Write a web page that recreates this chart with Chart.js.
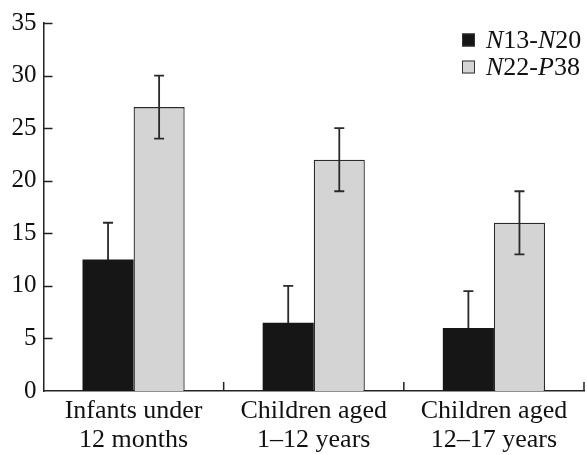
<!DOCTYPE html>
<html lang="en">

<head>
    <meta charset="UTF-8">
    <title>Bar chart</title>
    <style>
        body { margin: 0; background: #fff; }
        #wrap { width: 587px; height: 455px; }
    </style>
</head>

<body>
    <div id="wrap">
        <canvas id="myChart" width="587" height="455"></canvas>
    </div>

    <script src="https://cdn.jsdelivr.net/npm/chart.js"></script>

    <script>
        const categories = [
            ['Infants under', '12 months'],
            ['Children aged', '1\u201312 years'],
            ['Children aged', '12\u201317 years']
        ];
        const seriesA = [12.5, 6.5, 6];     // N13-N20
        const errorsA = [3.5, 3.5, 3.5];
        const seriesB = [27, 22, 16];       // N22-P38
        const errorsB = [3, 3, 3];
        const yTicks = [0, 5, 10, 15, 20, 25, 30, 35];

        // legend parts: [text, italic]
        const legendA = [['N', true], ['13-', false], ['N', true], ['20', false]];
        const legendB = [['N', true], ['22-', false], ['P', true], ['38', false]];

        const SERIF = '"Liberation Serif", "Times New Roman", serif';
        const INK = '#222';

        function drawErrors(chart, dsIndex, errs) {
            const ctx = chart.ctx;
            const y = chart.scales.y;
            const meta = chart.getDatasetMeta(dsIndex);
            const vals = chart.data.datasets[dsIndex].data;
            ctx.save();
            ctx.strokeStyle = '#2a2a2a';
            ctx.lineWidth = 1.8;
            meta.data.forEach((bar, i) => {
                const top = y.getPixelForValue(vals[i] + errs[i]);
                const bot = y.getPixelForValue(vals[i] - errs[i]);
                ctx.beginPath();
                ctx.moveTo(bar.x, top); ctx.lineTo(bar.x, bot);
                ctx.moveTo(bar.x - 5, top); ctx.lineTo(bar.x + 5, top);
                ctx.moveTo(bar.x - 5, bot); ctx.lineTo(bar.x + 5, bot);
                ctx.stroke();
            });
            ctx.restore();
        }

        const extras = {
            id: 'extras',
            beforeDatasetsDraw(chart) {
                drawErrors(chart, 0, errorsA);
            },
            afterDatasetsDraw(chart) {
                drawErrors(chart, 1, errorsB);
            },
            afterDraw(chart) {
                const ctx = chart.ctx;
                const x = chart.scales.x, y = chart.scales.y;
                const area = chart.chartArea;
                ctx.save();
                ctx.strokeStyle = INK;
                ctx.lineWidth = 1.5;
                ctx.beginPath();
                // inward ticks on y
                yTicks.slice(1).forEach(v => {
                    const py = Math.round(y.getPixelForValue(v)) + 0.5;
                    ctx.moveTo(area.left, py); ctx.lineTo(area.left + 9, py);
                });
                // inward ticks between categories and at right end
                for (let i = 0; i < categories.length; i++) {
                    const px = i < categories.length - 1
                        ? (x.getPixelForValue(i) + x.getPixelForValue(i + 1)) / 2
                        : area.right;
                    ctx.moveTo(px, area.bottom); ctx.lineTo(px, area.bottom - 9);
                }
                ctx.stroke();

                // legend
                const rows = [[legendA, '#161616'], [legendB, '#d3d4d3']];
                ctx.textBaseline = 'middle';
                rows.forEach(([parts, color], r) => {
                    const cy = 40 + r * 27;
                    ctx.fillStyle = color;
                    ctx.fillRect(462, cy - 6.5, 13, 13);
                    ctx.strokeStyle = '#333';
                    ctx.lineWidth = 1;
                    ctx.strokeRect(462.5, cy - 6, 12, 12);
                    let tx = 486;
                    ctx.fillStyle = '#111';
                    parts.forEach(([t, it]) => {
                        ctx.font = (it ? 'italic ' : '') + '26px ' + SERIF;
                        ctx.fillText(t, tx, cy + 1);
                        tx += ctx.measureText(t).width;
                    });
                });
                ctx.restore();
            }
        };

        new Chart(document.getElementById('myChart'), {
            type: 'bar',
            data: {
                labels: categories,
                datasets: [{
                    label: 'N13-N20',
                    data: seriesA,
                    backgroundColor: '#161616',
                    borderWidth: 0,
                    categoryPercentage: 0.567,
                    barPercentage: 1.0
                },
                {
                    label: 'N22-P38',
                    data: seriesB,
                    backgroundColor: '#d3d4d3',
                    borderColor: '#2a2a2a',
                    borderWidth: 1.3,
                    categoryPercentage: 0.567,
                    barPercentage: 1.0
                }]
            },
            options: {
                responsive: false,
                animation: false,
                layout: { padding: { top: 23, right: 3, left: 0, bottom: 0 } },
                plugins: {
                    legend: { display: false },
                    tooltip: { enabled: false }
                },
                scales: {
                    x: {
                        grid: { display: false, drawTicks: false },
                        border: { display: true, color: INK, width: 1.5 },
                        ticks: {
                            color: '#111',
                            padding: 5,
                            maxRotation: 0,
                            autoSkip: false,
                            font: { family: SERIF, size: 26, lineHeight: 1.13 }
                        },
                        afterFit(scale) { scale.height = 64; }
                    },
                    y: {
                        min: 0,
                        max: 35,
                        grid: { display: false, drawTicks: false },
                        border: { display: true, color: INK, width: 1.5 },
                        ticks: {
                            stepSize: 5,
                            color: '#111',
                            padding: 7,
                            font: { family: SERIF, size: 25 }
                        },
                        afterFit(scale) { scale.width = 43.5; }
                    }
                }
            },
            plugins: [extras]
        });
    </script>

</body>

</html>
